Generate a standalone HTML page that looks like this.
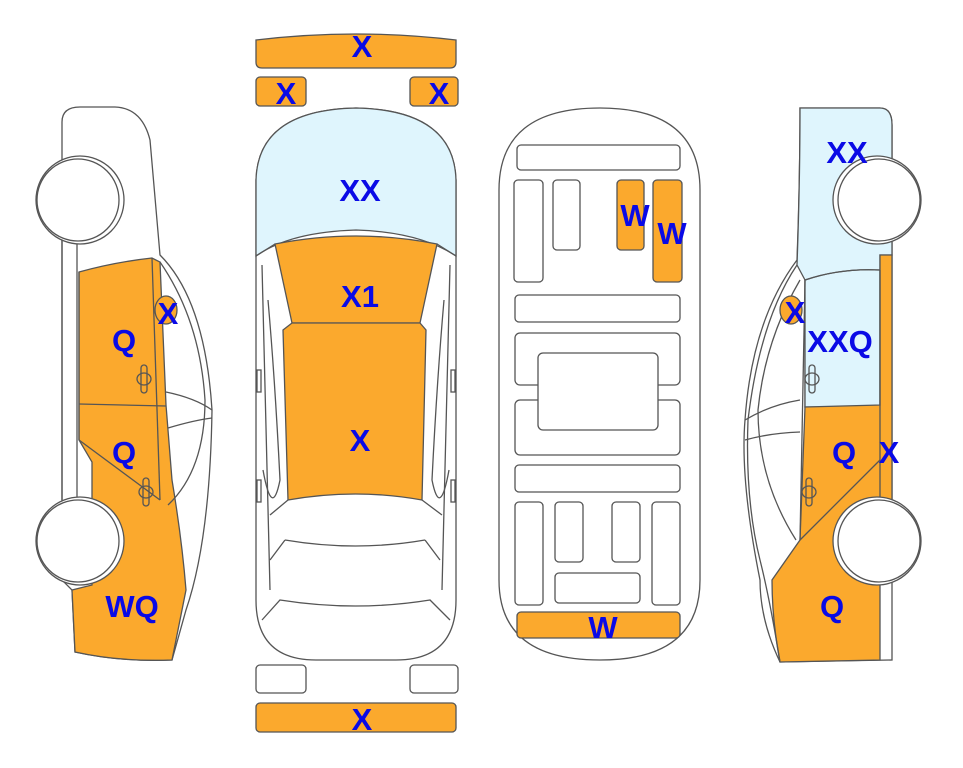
<!DOCTYPE html>
<html><head><style>body{margin:0;background:#fff}svg{display:block}text{font-family:"Liberation Sans",sans-serif;font-weight:bold;font-size:31px;fill:#0a0ae6;text-anchor:middle}</style></head>
<body>
<svg width="963" height="768" viewBox="0 0 963 768" xmlns="http://www.w3.org/2000/svg">
<g stroke="#555" stroke-width="1.3" fill="none">
<!-- LEFT CAR -->
<path d="M62,170 L62,122 Q62,107 80,107 L115,107 Q142,108 150,140 L160,255 Q205,300 212,410 Q210,540 186,610 L172,660 Q120,662 75,652 L72,590 L62,580 L62,240" fill="#fff"/>
<path d="M79,272 Q115,262 152,258 L160,262 L166,405 L172,480 Q182,540 186,590 L178,630 L172,660 Q120,662 75,652 L72,590 L92,585 L92,462 L79,440 Z" fill="#fba92d"/>
<line x1="62" y1="240" x2="62" y2="500"/><line x1="77" y1="240" x2="77" y2="500"/>
<line x1="79" y1="272" x2="79" y2="440"/>
<line x1="79" y1="404" x2="166" y2="406"/>
<line x1="152" y1="258" x2="160" y2="500"/>
<line x1="79" y1="440" x2="160" y2="500"/>
<path d="M160,262 Q200,320 205,400 Q205,470 168,505"/>
<path d="M166,392 Q195,398 212,410 M168,428 Q195,420 212,418"/>
<ellipse cx="166" cy="310" rx="11" ry="14" fill="#fba92d"/>
<circle cx="80" cy="200" r="44" fill="#fff"/><circle cx="78" cy="200" r="41" fill="#fff"/>
<circle cx="80" cy="541" r="44" fill="#fff"/><circle cx="78" cy="541" r="41" fill="#fff"/>
<rect x="141" y="365" width="6" height="28" rx="3"/><ellipse cx="144" cy="379" rx="7" ry="6"/>
<rect x="143" y="478" width="6" height="28" rx="3"/><ellipse cx="146" cy="492" rx="7" ry="6"/>

<!-- RIGHT CAR -->
<path d="M800,108 L880,108 Q892,108 892,125 L892,660 L780,662 Q760,620 760,580 Q740,480 745,420 Q752,320 797,260 Q800,180 800,108 Z" fill="#fff"/>
<path d="M800,108 L880,108 Q892,108 892,125 L892,255 L880,255 L880,407 L805,407 L805,280 L797,265 Q800,180 800,108 Z" fill="#dff5fd"/>
<path d="M805,280 Q840,268 880,270 L880,407 L805,407 Z" fill="#dff5fd"/>
<path d="M805,407 L880,405 L880,255 L892,255 L892,500 L880,500 L880,660 L780,662 Q772,620 772,580 L800,540 Z" fill="#fba92d"/>
<path d="M797,265 Q760,320 748,420 Q745,500 760,560 Q770,600 780,662"/>
<path d="M800,280 Q765,340 758,410 Q758,480 796,540"/>
<path d="M745,420 Q770,405 800,400 M745,440 Q770,433 800,432"/>
<line x1="805" y1="280" x2="800" y2="540"/>
<line x1="880" y1="270" x2="880" y2="500"/>
<line x1="880" y1="460" x2="800" y2="540"/>
<path d="M805,280 Q840,268 880,270"/>
<ellipse cx="791" cy="310" rx="11" ry="14" fill="#fba92d"/>
<circle cx="877" cy="200" r="44" fill="#fff"/><circle cx="879" cy="200" r="41" fill="#fff"/>
<circle cx="877" cy="541" r="44" fill="#fff"/><circle cx="879" cy="541" r="41" fill="#fff"/>
<rect x="809" y="365" width="6" height="28" rx="3"/><ellipse cx="812" cy="379" rx="7" ry="6"/>
<rect x="806" y="478" width="6" height="28" rx="3"/><ellipse cx="809" cy="492" rx="7" ry="6"/>

<!-- MIDDLE TOP VIEW -->
<path d="M256,40 Q356,28 456,40 L456,62 Q456,68 450,68 L262,68 Q256,68 256,62 Z" fill="#fba92d"/>
<rect x="256" y="77" width="50" height="29" rx="4" fill="#fba92d"/>
<rect x="410" y="77" width="48" height="29" rx="4" fill="#fba92d"/>
<rect x="256" y="665" width="50" height="28" rx="4" fill="#fff"/>
<rect x="410" y="665" width="48" height="28" rx="4" fill="#fff"/>
<rect x="256" y="703" width="200" height="29" rx="4" fill="#fba92d"/>
<path d="M256,255 L256,180 Q258,110 356,108 Q454,110 456,180 L456,600 Q456,660 396,660 L316,660 Q256,660 256,600 Z" fill="#fff"/>
<path d="M256,256 L256,180 Q258,110 356,108 Q454,110 456,180 L456,256 Q420,232 356,230 Q290,232 256,256 Z" fill="#dff5fd"/>
<path d="M275,244 Q356,228 437,244 L420,323 L292,323 Z" fill="#fba92d"/>
<path d="M283,330 L292,323 L420,323 L426,330 L422,500 Q356,488 288,500 Z" fill="#fba92d"/>
<path d="M256,256 L275,244 M456,256 L437,244"/>
<path d="M262,265 L270,590 M450,265 L442,590"/>
<path d="M268,300 Q275,380 280,480 Q272,520 263,470 M444,300 Q437,380 432,480 Q440,520 449,470"/>
<path d="M288,500 L270,515 M422,500 L442,515"/>
<path d="M285,540 Q356,552 425,540 M285,540 L270,560 M425,540 L440,560"/>
<path d="M262,620 L280,600 Q356,612 430,600 L450,620"/>
<rect x="257" y="370" width="4" height="22"/><rect x="451" y="370" width="4" height="22"/>
<rect x="257" y="480" width="4" height="22"/><rect x="451" y="480" width="4" height="22"/>

<!-- INTERIOR -->
<path d="M499,190 Q499,108 600,108 Q700,108 700,190 L700,580 Q700,660 600,660 Q499,660 499,580 Z" fill="#fff"/>
<rect x="517" y="145" width="163" height="25" rx="4"/>
<rect x="514" y="180" width="29" height="102" rx="4"/>
<rect x="553" y="180" width="27" height="70" rx="4"/>
<rect x="617" y="180" width="27" height="70" rx="4" fill="#fba92d"/>
<rect x="653" y="180" width="29" height="102" rx="4" fill="#fba92d"/>
<rect x="515" y="295" width="165" height="27" rx="4"/>
<rect x="515" y="333" width="165" height="52" rx="5"/>
<rect x="515" y="400" width="165" height="55" rx="5"/>
<rect x="538" y="353" width="120" height="77" rx="5" fill="#fff"/>
<rect x="515" y="465" width="165" height="27" rx="4"/>
<rect x="515" y="502" width="28" height="103" rx="4"/>
<rect x="555" y="502" width="28" height="60" rx="4"/>
<rect x="612" y="502" width="28" height="60" rx="4"/>
<rect x="652" y="502" width="28" height="103" rx="4"/>
<rect x="555" y="573" width="85" height="30" rx="4"/>
<rect x="517" y="612" width="163" height="26" rx="4" fill="#fba92d"/>
</g>
<text x="362" y="57">X</text>
<text x="286" y="104">X</text>
<text x="439" y="104">X</text>
<text x="360" y="201">XX</text>
<text x="360" y="307">X1</text>
<text x="360" y="451">X</text>
<text x="362" y="730">X</text>
<text x="635" y="226">W</text>
<text x="672" y="244">W</text>
<text x="603" y="638">W</text>
<text x="124" y="351">Q</text>
<text x="168" y="324">X</text>
<text x="124" y="463">Q</text>
<text x="132" y="617">WQ</text>
<text x="847" y="163">XX</text>
<text x="795" y="323">X</text>
<text x="840" y="352">XXQ</text>
<text x="844" y="463">Q</text>
<text x="889" y="463">X</text>
<text x="832" y="617">Q</text>
</svg>
</body></html>
